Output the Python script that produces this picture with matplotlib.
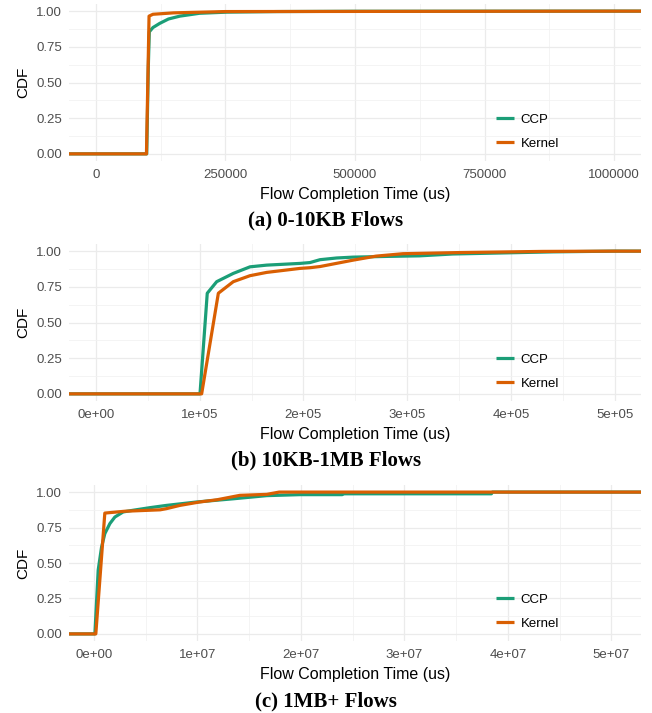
import matplotlib
matplotlib.use("Agg")
import matplotlib.pyplot as plt
from matplotlib.ticker import FixedLocator, MultipleLocator

# CDF of flow completion time (us)
# (a) 0-10KB flows
a_ccp_x = [98000, 101000, 103000, 110000, 123000, 140000, 162000, 200000, 253000, 350000, 500000, 1000000]
a_ccp_y = [0.0, 0.60, 0.855, 0.885, 0.914, 0.945, 0.965, 0.985, 0.993, 0.997, 0.999, 1.0]
a_ker_x = [97500, 102500, 110000, 150000, 250000, 1000000]
a_ker_y = [0.0, 0.965, 0.978, 0.988, 0.997, 1.0]

# (b) 10KB-1MB flows
b_ccp_x = [100300, 107300, 116400, 132400, 148500, 164600, 196700, 206400, 216000, 232000,
           248000, 280000, 312000, 344000, 409000, 441000, 500000]
b_ccp_y = [0.0, 0.705, 0.786, 0.844, 0.89, 0.902, 0.914, 0.92, 0.94, 0.952,
           0.958, 0.963, 0.967, 0.98, 0.99, 0.995, 1.0]
b_ker_x = [101900, 118000, 132400, 148500, 164600, 196700, 206400, 216000, 248000, 270000,
           296000, 350000, 430000, 500000]
b_ker_y = [0.0, 0.705, 0.786, 0.828, 0.851, 0.879, 0.884, 0.892, 0.937, 0.965,
           0.982, 0.99, 0.998, 1.0]

# (c) 1MB+ flows
c_ccp_x = [1.0e5, 4.2e5, 7.4e5, 1.06e6, 1.55e6, 2.03e6, 2.83e6, 3.8e6, 5.4e6, 7.0e6, 9.9e6,
           13.5e6, 16.7e6, 19.9e6, 24.0e6, 24.1e6, 38.4e6, 38.5e6, 5.0e7]
c_ccp_y = [0.0, 0.45, 0.61, 0.707, 0.778, 0.824, 0.86, 0.872, 0.89, 0.906, 0.93,
           0.953, 0.975, 0.982, 0.982, 0.988, 0.988, 1.0, 1.0]
c_ker_x = [1.9e5, 1.06e6, 3.0e6, 6.4e6, 7.0e6, 8.3e6, 10.2e6, 11.9e6, 14.1e6, 16.7e6, 17.9e6, 5.0e7]
c_ker_y = [0.0, 0.852, 0.865, 0.875, 0.883, 0.906, 0.93, 0.946, 0.977, 0.984, 1.0, 1.0]

series_names = ["CCP", "Kernel"]
captions = ["(a) 0-10KB Flows", "(b) 10KB-1MB Flows", "(c) 1MB+ Flows"]

ticks_a = [0, 250000, 500000, 750000, 1000000]
labels_a = ["0", "250000", "500000", "750000", "1000000"]
ticks_b = [0, 1e5, 2e5, 3e5, 4e5, 5e5]
labels_b = ["0e+00", "1e+05", "2e+05", "3e+05", "4e+05", "5e+05"]
ticks_c = [0, 1e7, 2e7, 3e7, 4e7, 5e7]
labels_c = ["0e+00", "1e+07", "2e+07", "3e+07", "4e+07", "5e+07"]
y_ticks = [0, 0.25, 0.5, 0.75, 1.0]
y_labels = ["0.00", "0.25", "0.50", "0.75", "1.00"]

colors = ["#1B9E77", "#D95F02"]

plt.rcParams["font.family"] = ["Liberation Sans", "DejaVu Sans"]

W, H = 652, 713
fig = plt.figure(figsize=(W / 100, H / 100), dpi=100)

# panel boxes in pixels: (top, bottom)
boxes = [(4, 161), (244, 401), (485, 641)]
left_px, right_px = 69, 641
xlims = [(-52000, 1052000), (-26000, 525500), (-2.4e6, 5.285e7)]
minor_steps = [125000, 50000, 5e6]
caption_y = [220, 460, 701]

panels = [
    (a_ccp_x, a_ccp_y, a_ker_x, a_ker_y, ticks_a, labels_a),
    (b_ccp_x, b_ccp_y, b_ker_x, b_ker_y, ticks_b, labels_b),
    (c_ccp_x, c_ccp_y, c_ker_x, c_ker_y, ticks_c, labels_c),
]

for i, (cx, cy, kx, ky, xt, xl) in enumerate(panels):
    top, bot = boxes[i]
    ax = fig.add_axes([left_px / W, 1 - bot / H, (right_px - left_px) / W, (bot - top) / H])
    ax.set_xlim(*xlims[i])
    ax.set_ylim(-0.05, 1.05)
    lo, hi = ax.get_xlim()
    handles = []
    for (xs, ys), col, name in zip([(cx, cy), (kx, ky)], colors, series_names):
        # ecdf padded to the panel edges like stat_ecdf(pad=TRUE)
        px = [lo] + list(xs) + [hi]
        py = [0.0] + list(ys) + [1.0]
        h, = ax.plot(px, py, color=col, lw=2.3, label=name, solid_capstyle="butt")
        handles.append(h)

    ax.xaxis.set_major_locator(FixedLocator(xt))
    ax.set_xticklabels(xl)
    ax.xaxis.set_minor_locator(MultipleLocator(minor_steps[i]))
    ax.yaxis.set_major_locator(FixedLocator(y_ticks))
    ax.set_yticklabels(y_labels)
    ax.yaxis.set_minor_locator(MultipleLocator(0.125))
    ax.grid(which="major", color="#EBEBEB", lw=0.9)
    ax.grid(which="minor", color="#F2F2F2", lw=0.6)
    ax.set_axisbelow(True)
    for s in ax.spines.values():
        s.set_visible(False)
    ax.tick_params(which="both", length=0, labelsize=9.5, labelcolor="#4D4D4D")
    ax.tick_params(axis="x", pad=6)
    ax.tick_params(axis="y", pad=5)
    ax.set_xlabel("Flow Completion Time (us)", fontsize=11.5, labelpad=4)
    ax.set_ylabel("CDF", fontsize=11, labelpad=4)

    ax.legend(handles=handles, loc="center left", bbox_to_anchor=(0.7465, 0.187),
              frameon=False, fontsize=9.5, handlelength=1.4, handletextpad=0.45,
              labelspacing=0.9, borderpad=0, borderaxespad=0)

    fig.text(0.5, 1 - caption_y[i] / H, captions[i], ha="center", va="center",
             fontsize=15, fontweight="bold", family=["Liberation Serif", "DejaVu Serif"])

fig.savefig("out.png", dpi=100)
